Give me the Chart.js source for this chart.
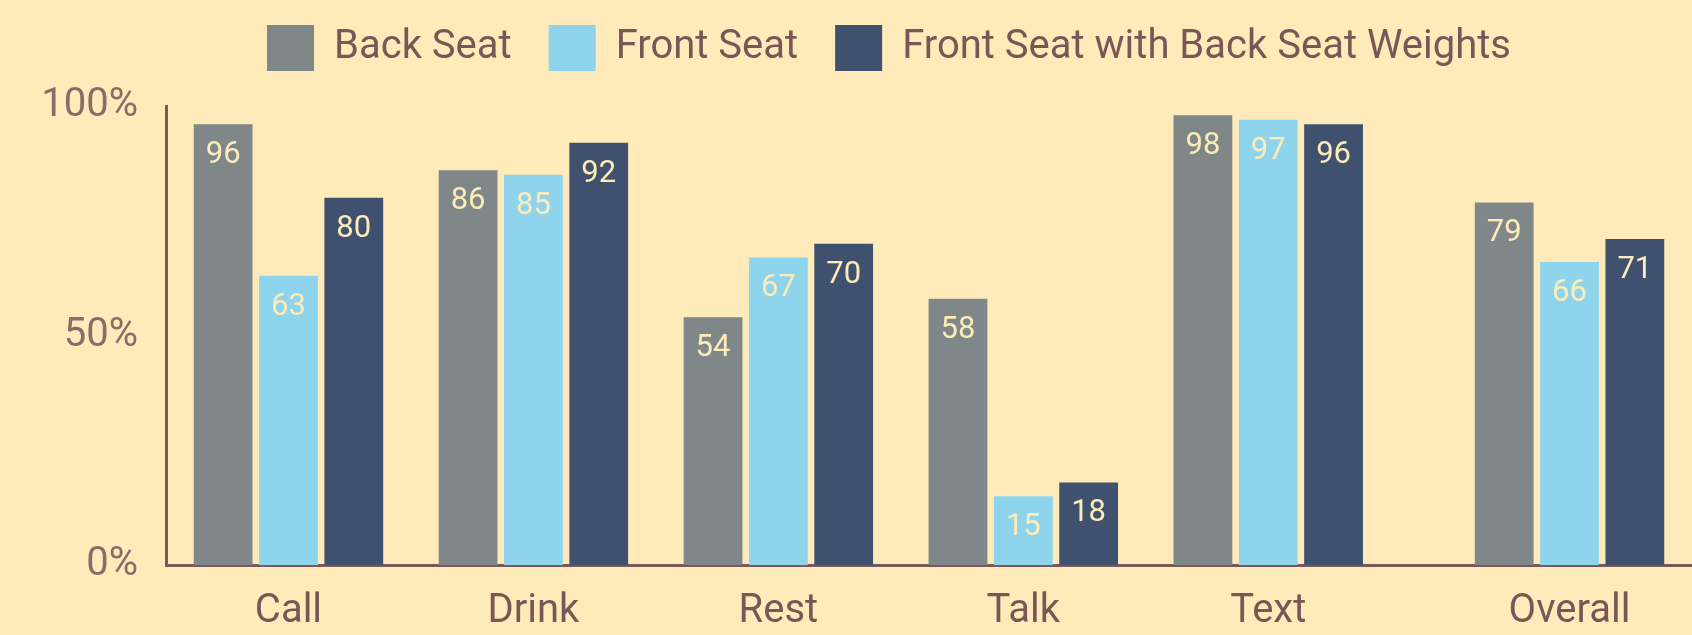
<!DOCTYPE html>
<html>
<head>
<meta charset="utf-8">
<script src="https://cdn.jsdelivr.net/npm/chart.js@4/dist/chart.umd.min.js"></script>
<style>
  html, body { margin: 0; padding: 0; background: #ffebb9; }
  canvas { display: block; }
</style>
</head>
<body>
<canvas id="seat-chart" width="1692" height="635"></canvas>
<script>
// ----------------------------Data----------------------------

const categories = ['Call', 'Drink', 'Rest', 'Talk', 'Text', 'Overall'];
const backSeat = [96, 86, 54, 58, 98, 79];
const frontSeat = [63, 85, 67, 15, 97, 66];
const frontSeatWeighted = [80, 92, 70, 18, 96, 71];
const yTicks = [0, 50, 100];

// "Overall" sits a little further out than the other groups
const overallGap = 0.23;
const xPos = categories.map((c, i) => i === categories.length - 1 ? i + overallGap : i);

const textColor = '#7b5656';
const axisColor = '#7b5757';
const labelColor = '#fdebb8';

function toPoints(values) {
    return values.map((v, i) => ({ x: xPos[i], y: v }));
}

// value labels near the top of each bar
const barLabels = {
    id: 'barLabels',
    afterDatasetsDraw(chart) {
        const ctx = chart.ctx;
        ctx.save();
        ctx.font = '31px Roboto';
        ctx.fillStyle = labelColor;
        ctx.textAlign = 'center';
        ctx.textBaseline = 'alphabetic';
        chart.data.datasets.forEach((ds, di) => {
            const meta = chart.getDatasetMeta(di);
            meta.data.forEach((bar, i) => {
                ctx.fillText(String(ds.data[i].y), bar.x, bar.y + 39);
            });
        });
        ctx.restore();
    }
};

// extra room under the legend, and legend nudged right of the canvas centre
const legendSpacer = {
    id: 'legendSpacer',
    beforeLayout(chart) {
        const legend = chart.legend;
        if (legend && !legend._spaced) {
            const fit = legend.fit;
            legend.fit = function() {
                fit.call(this);
                this.height += 25;
            };
            legend._spaced = true;
        }
    },
    afterLayout(chart) {
        if (chart.legend) chart.legend.left += 86;
    }
};

new Chart(document.getElementById('seat-chart'), {
    type: 'bar',
    data: {
        datasets: [
            { label: 'Back Seat', data: toPoints(backSeat), backgroundColor: '#7f8788' },
            { label: 'Front Seat', data: toPoints(frontSeat), backgroundColor: '#8dd4ec' },
            { label: 'Front Seat with Back Seat Weights', data: toPoints(frontSeatWeighted), backgroundColor: '#40516f' }
        ]
    },
    options: {
        responsive: false,
        animation: false,
        devicePixelRatio: 1,
        categoryPercentage: 0.8,
        barPercentage: 0.9,
        layout: { padding: { top: -12, left: 0, right: 0, bottom: 0 } },
        plugins: {
            legend: {
                position: 'top',
                labels: {
                    font: { family: 'Roboto', size: 40 },
                    color: textColor,
                    boxWidth: 47,
                    boxHeight: 46,
                    padding: 37
                }
            },
            tooltip: { enabled: false }
        },
        scales: {
            x: {
                type: 'linear',
                offset: false,
                min: -0.5,
                max: categories.length - 1 + overallGap + 0.5,
                grid: { display: false, drawTicks: false },
                border: { display: true, color: axisColor, width: 3 },
                afterBuildTicks: scale => { scale.ticks = xPos.map(v => ({ value: v })); },
                afterFit: scale => { scale.height = 70; },
                ticks: {
                    autoSkip: false,
                    maxRotation: 0,
                    padding: 23,
                    color: textColor,
                    font: { family: 'Roboto', size: 40 },
                    callback: (value, index) => categories[index]
                }
            },
            y: {
                min: 0,
                max: 100,
                grid: { display: false, drawTicks: false },
                border: { display: true, color: axisColor, width: 3 },
                afterBuildTicks: scale => { scale.ticks = yTicks.map(v => ({ value: v })); },
                afterFit: scale => { scale.width = 166; },
                ticks: {
                    padding: 28,
                    color: '#8b6a6a',
                    font: { family: 'Roboto', size: 40 },
                    callback: v => v + '%'
                }
            }
        }
    },
    plugins: [barLabels, legendSpacer]
});
</script>
</body>
</html>
